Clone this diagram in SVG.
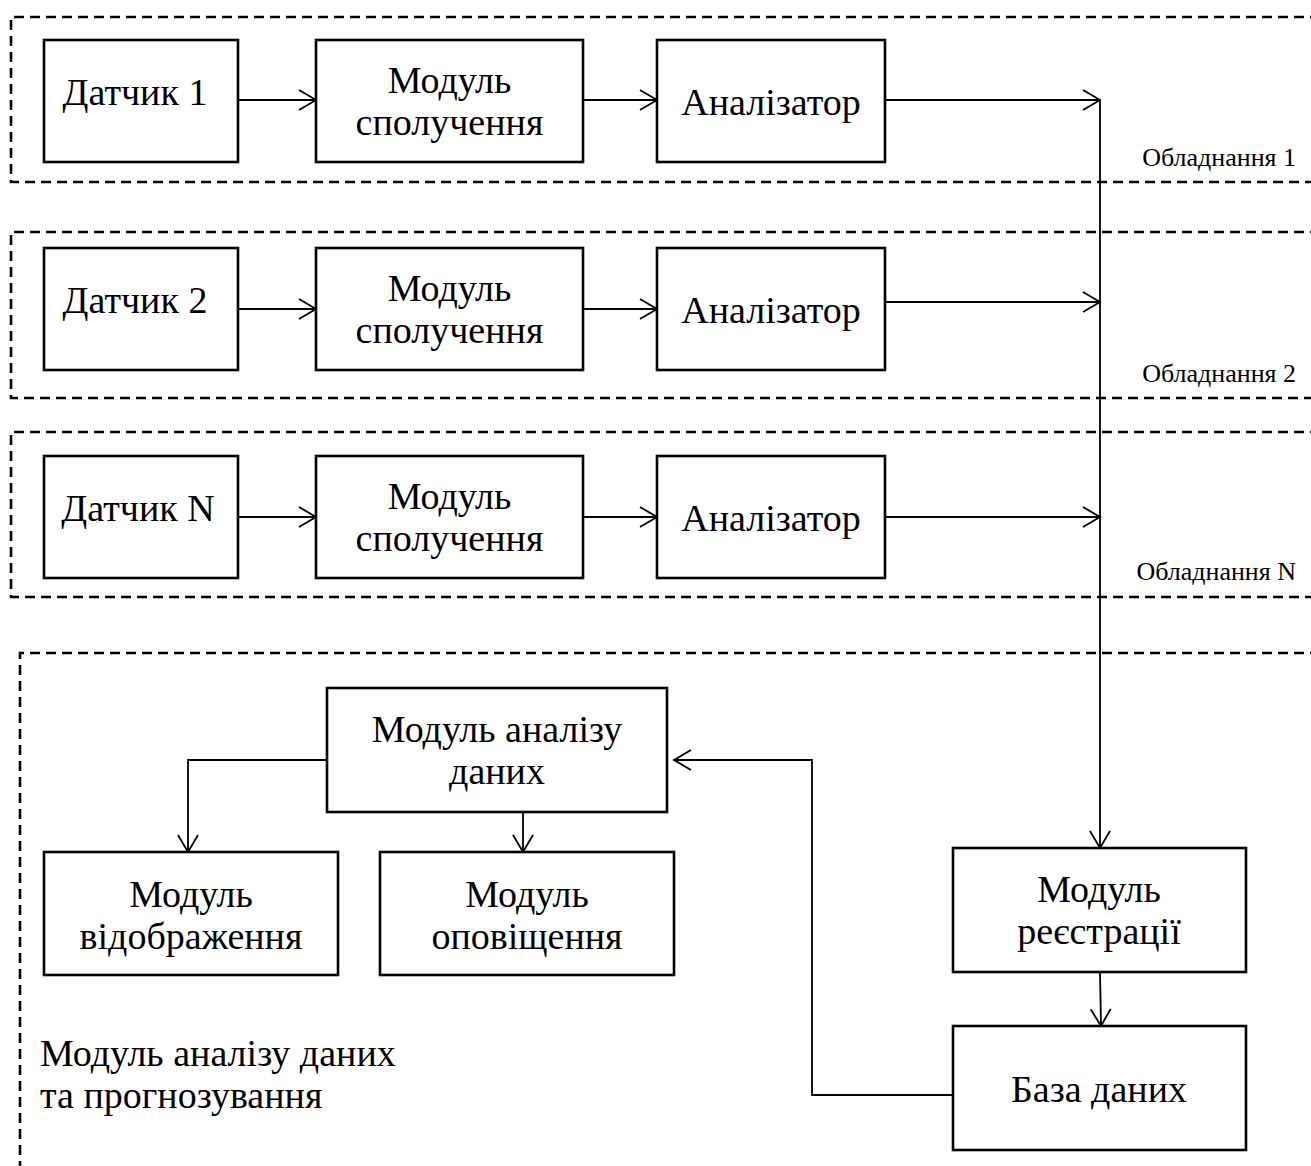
<svg xmlns="http://www.w3.org/2000/svg" width="1311" height="1166" viewBox="0 0 1311 1166">
  <style>
    .box { fill: #ffffff; stroke: #000000; stroke-width: 2.6; }
    .frame { fill: none; stroke: #000000; stroke-width: 2.6; stroke-dasharray: 10 6; }
    .wire { fill: none; stroke: #000000; stroke-width: 1.8; }
    .lbl { font-family: "Liberation Serif", "Times New Roman", serif; font-size: 38px; fill: #000000; text-anchor: middle; }
    .tag { font-family: "Liberation Serif", "Times New Roman", serif; font-size: 26px; fill: #000000; text-anchor: end; }
    .cap { font-family: "Liberation Serif", "Times New Roman", serif; font-size: 38px; fill: #000000; }
  </style>
  <defs>
    <marker id="arrow" markerUnits="userSpaceOnUse" markerWidth="24" markerHeight="24" viewBox="-20 -12 24 24" refX="0" refY="0" orient="auto">
      <path d="M-17,-10 L0,0 L-17,10" fill="none" stroke="#000000" stroke-width="1.8"/>
    </marker>
  </defs>

  <rect width="1311" height="1166" fill="#ffffff"/>

  <!-- dashed equipment frames -->
  <g id="frames">
    <path class="frame" d="M1320,17 H11 V182 H1320"/>
    <path class="frame" d="M1320,232 H11 V398 H1320"/>
    <path class="frame" d="M1320,432 H11 V597 H1320"/>
    <path class="frame" d="M1320,653 H20 V1175"/>
    <text class="tag" x="1296" y="166">Обладнання 1</text>
    <text class="tag" x="1296" y="382">Обладнання 2</text>
    <text class="tag" x="1296" y="580">Обладнання N</text>
    <text class="cap" x="40" y="1066">Модуль аналізу даних</text>
    <text class="cap" x="40" y="1108">та прогнозування</text>
  </g>

  <!-- connectors -->
  <g id="connectors">
    <line class="wire" x1="238" y1="100" x2="316" y2="100" marker-end="url(#arrow)"/>
    <line class="wire" x1="583" y1="100" x2="657" y2="100" marker-end="url(#arrow)"/>
    <line class="wire" x1="885" y1="100" x2="1100" y2="100" marker-end="url(#arrow)"/>

    <line class="wire" x1="238" y1="309" x2="316" y2="309" marker-end="url(#arrow)"/>
    <line class="wire" x1="583" y1="309" x2="657" y2="309" marker-end="url(#arrow)"/>
    <line class="wire" x1="885" y1="302" x2="1100" y2="302" marker-end="url(#arrow)"/>

    <line class="wire" x1="238" y1="517" x2="316" y2="517" marker-end="url(#arrow)"/>
    <line class="wire" x1="583" y1="517" x2="657" y2="517" marker-end="url(#arrow)"/>
    <line class="wire" x1="885" y1="517" x2="1100" y2="517" marker-end="url(#arrow)"/>

    <line class="wire" x1="1100" y1="100" x2="1100" y2="848" marker-end="url(#arrow)"/>
    <line class="wire" x1="1100" y1="972" x2="1101" y2="1026" marker-end="url(#arrow)"/>
    <polyline class="wire" points="953,1095 812,1095 812,760 674,760" marker-end="url(#arrow)"/>
    <polyline class="wire" points="327,760 188,760 188,852" marker-end="url(#arrow)"/>
    <line class="wire" x1="523" y1="812" x2="523" y2="852" marker-end="url(#arrow)"/>
  </g>

  <!-- row 1 -->
  <g id="sensor1">
    <rect class="box" x="44" y="40" width="194" height="122"/>
    <text class="lbl" x="135" y="105">Датчик 1</text>
  </g>
  <g id="link1">
    <rect class="box" x="316" y="40" width="267" height="122"/>
    <text class="lbl" x="449.5" y="93">Модуль</text>
    <text class="lbl" x="449.5" y="135">сполучення</text>
  </g>
  <g id="analyzer1">
    <rect class="box" x="657" y="40" width="228" height="122"/>
    <text class="lbl" x="771" y="115">Аналізатор</text>
  </g>

  <!-- row 2 -->
  <g id="sensor2">
    <rect class="box" x="44" y="248" width="194" height="122"/>
    <text class="lbl" x="135" y="313">Датчик 2</text>
  </g>
  <g id="link2">
    <rect class="box" x="316" y="248" width="267" height="122"/>
    <text class="lbl" x="449.5" y="301">Модуль</text>
    <text class="lbl" x="449.5" y="343">сполучення</text>
  </g>
  <g id="analyzer2">
    <rect class="box" x="657" y="248" width="228" height="122"/>
    <text class="lbl" x="771" y="323">Аналізатор</text>
  </g>

  <!-- row N -->
  <g id="sensorN">
    <rect class="box" x="44" y="456" width="194" height="122"/>
    <text class="lbl" x="138" y="521">Датчик N</text>
  </g>
  <g id="linkN">
    <rect class="box" x="316" y="456" width="267" height="122"/>
    <text class="lbl" x="449.5" y="509">Модуль</text>
    <text class="lbl" x="449.5" y="551">сполучення</text>
  </g>
  <g id="analyzerN">
    <rect class="box" x="657" y="456" width="228" height="122"/>
    <text class="lbl" x="771" y="531">Аналізатор</text>
  </g>

  <!-- data analysis block -->
  <g id="analysis">
    <rect class="box" x="327" y="688" width="340" height="124"/>
    <text class="lbl" x="497" y="742">Модуль аналізу</text>
    <text class="lbl" x="497" y="784">даних</text>
  </g>
  <g id="display">
    <rect class="box" x="44" y="852" width="294" height="123"/>
    <text class="lbl" x="191" y="907">Модуль</text>
    <text class="lbl" x="191" y="949">відображення</text>
  </g>
  <g id="notify">
    <rect class="box" x="380" y="852" width="294" height="123"/>
    <text class="lbl" x="527" y="907">Модуль</text>
    <text class="lbl" x="527" y="949">оповіщення</text>
  </g>
  <g id="register">
    <rect class="box" x="953" y="848" width="293" height="124"/>
    <text class="lbl" x="1099" y="902">Модуль</text>
    <text class="lbl" x="1099" y="944">реєстрації</text>
  </g>
  <g id="database">
    <rect class="box" x="953" y="1026" width="293" height="124"/>
    <text class="lbl" x="1099" y="1102">База даних</text>
  </g>
</svg>
